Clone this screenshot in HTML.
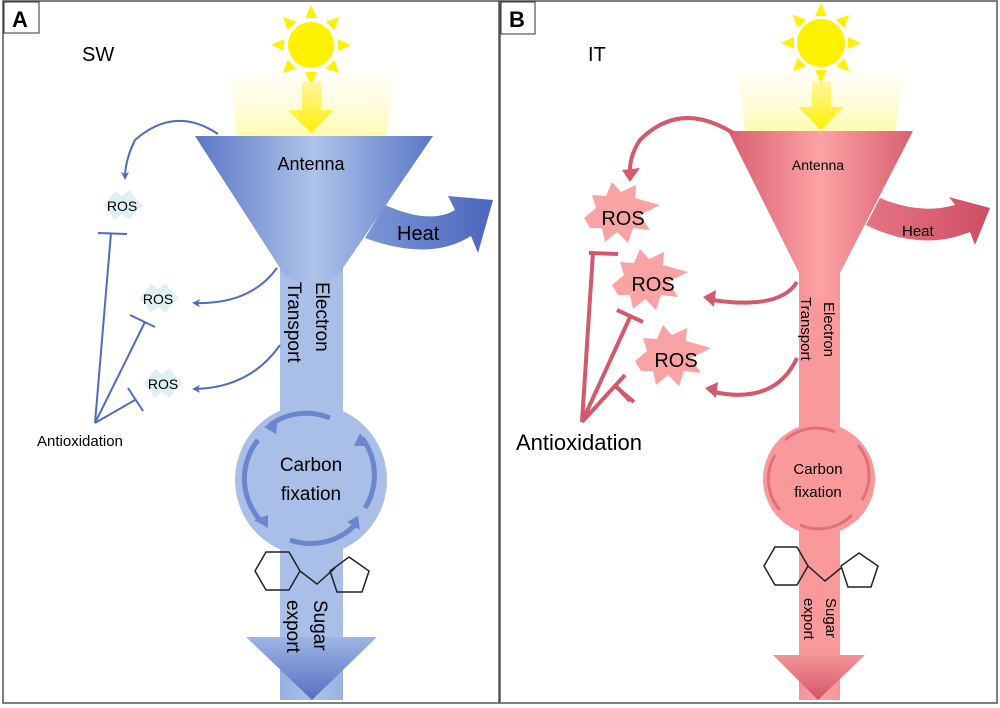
<!DOCTYPE html>
<html><head><meta charset="utf-8"><style>
body{margin:0;background:#fff}
svg{display:block;font-family:"Liberation Sans",sans-serif}
</style></head><body>
<svg width="1000" height="708" viewBox="0 0 1000 708" xmlns="http://www.w3.org/2000/svg">
<defs>
<linearGradient id="bA" x1="0" x2="1" y1="0" y2="0"><stop offset="0" stop-color="#5a77c6"/><stop offset="0.5" stop-color="#aec3ea"/><stop offset="1" stop-color="#5a77c6"/></linearGradient>
<linearGradient id="bAd" x1="0" x2="0" y1="0" y2="1"><stop offset="0" stop-color="#9fb5e5"/><stop offset="1" stop-color="#5570c2"/></linearGradient>
<linearGradient id="hA" x1="0" x2="1"><stop offset="0" stop-color="#7d96d6"/><stop offset="1" stop-color="#4a66bd"/></linearGradient>
<linearGradient id="bB" x1="0" x2="1" y1="0" y2="0"><stop offset="0" stop-color="#d85f72"/><stop offset="0.5" stop-color="#fca2a4"/><stop offset="1" stop-color="#d85f72"/></linearGradient>
<linearGradient id="bBd" x1="0" x2="0" y1="0" y2="1"><stop offset="0" stop-color="#f49598"/><stop offset="1" stop-color="#d45468"/></linearGradient>
<linearGradient id="hB" x1="0" x2="1"><stop offset="0" stop-color="#e57583"/><stop offset="1" stop-color="#cf4e64"/></linearGradient>
<linearGradient id="lt" x1="0" x2="0" y1="0" y2="1"><stop offset="0" stop-color="#fffbe0" stop-opacity="0.3"/><stop offset="1" stop-color="#fffbb0"/></linearGradient>
<linearGradient id="ya" x1="0" x2="0" y1="0" y2="1"><stop offset="0" stop-color="#fff6a0"/><stop offset="1" stop-color="#fff000"/></linearGradient>
<marker id="mA" markerWidth="8" markerHeight="8" refX="6" refY="4" orient="auto" markerUnits="userSpaceOnUse"><path d="M0,0 L8,4 L0,8 L2,4Z" fill="#4f6cc0"/></marker>
</defs>
<rect x="3" y="1" width="496" height="702" fill="none" stroke="#555" stroke-width="1.5"/>
<rect x="500" y="1" width="497" height="702" fill="none" stroke="#555" stroke-width="1.5"/>
<rect x="4" y="2" width="35" height="31" fill="#fff" stroke="#333"/>
<text x="12" y="27" font-size="22" font-weight="bold">A</text>
<rect x="501" y="2" width="34" height="32" fill="#fff" stroke="#333"/>
<text x="509" y="27" font-size="22" font-weight="bold">B</text>
<text x="82" y="61" font-size="20">SW</text>
<text x="588" y="61" font-size="20">IT</text>

<!-- Panel A -->
<polygon points="230,75 395,75 386,136 237,136" fill="url(#lt)"/>
<g fill="#fff200">
<circle cx="311" cy="45" r="23"/>
<g transform="translate(311,45)">
<polygon points="-6,-27 6,-27 0,-40"/><polygon points="-6,27 6,27 0,40"/><polygon points="-27,-6 -27,6 -40,0"/><polygon points="27,-6 27,6 40,0"/>
<g transform="rotate(45)"><polygon points="-6,-27 6,-27 0,-40"/><polygon points="-6,27 6,27 0,40"/><polygon points="-27,-6 -27,6 -40,0"/><polygon points="27,-6 27,6 40,0"/></g>
</g></g>
<polygon points="302,82 321,82 321,110 334,110 311,133 288,110 302,110" fill="url(#ya)"/>
<path d="M195,136 L433,136 L343,268 L343,700 L280,700 L280,268 Z" fill="url(#bA)"/>
<rect x="280" y="300" width="63" height="340" fill="#a9bfe8"/>
<path d="M280,270 Q311,300 343,270 L343,300 L280,300Z" fill="#a9bfe8"/>
<circle cx="311" cy="480" r="76" fill="#a9bfe8"/>
<polygon points="246,637 377,637 312,700" fill="url(#bAd)"/>
<g fill="none" stroke="#6a86cf" stroke-width="5">
<path d="M330,418 A62,62 0 0 0 270,425"/><path d="M258,440 A62,62 0 0 0 262,522"/><path d="M290,540 A62,62 0 0 0 355,525"/><path d="M365,508 A62,62 0 0 0 362,438"/>
</g>
<g fill="#6a86cf"><polygon points="264,427 278,418 276,434"/><polygon points="268,528 254,520 268,515"/><polygon points="360,530 347,522 358,516"/><polygon points="360,433 368,446 354,446"/></g>
<text x="311" y="170" font-size="18" text-anchor="middle">Antenna</text>
<text x="311" y="471" font-size="19" text-anchor="middle">Carbon</text>
<text x="311" y="500" font-size="19" text-anchor="middle">fixation</text>
<text font-size="19" transform="translate(316,282) rotate(90)">Electron</text>
<text font-size="19" transform="translate(288,282) rotate(90)">Transport</text>
<text font-size="19" transform="translate(314,600) rotate(90)">Sugar</text>
<text font-size="19" transform="translate(287,600) rotate(90)">export</text>
<path d="M385,205 Q430,225 455,210 L448,196 L493,200 L478,253 L471,236 Q430,262 365,238 Z" fill="url(#hA)"/>
<text x="397" y="240" font-size="20">Heat</text>
<g fill="none" stroke="#222" stroke-width="1.5">
<polygon points="255,571 266,552 289,552 300,571 289,590 266,590"/>
<path d="M300,571 L317,584 L335,568"/>
<polygon points="349,557 369,571 362,592 337,592 330,571"/>
</g>
<g fill="#dff0f5"><polygon points="103,205 110,198 115,191 122,196 130,190 135,198 143,205 135,212 130,220 122,214 114,220 110,212"/><polygon points="139,298 146,291 151,284 158,289 166,283 171,291 179,298 171,305 166,313 158,307 150,313 146,305"/><polygon points="143,383 150,376 155,369 162,374 170,368 175,376 183,383 175,390 170,398 162,392 154,398 150,390"/></g>
<text x="122" y="211" font-size="14" text-anchor="middle">ROS</text>
<text x="158" y="304" font-size="14" text-anchor="middle">ROS</text>
<text x="163" y="389" font-size="14" text-anchor="middle">ROS</text>
<g fill="none" stroke="#4f6cc0" stroke-width="2">
<path d="M218,134 Q175,105 135,140 Q125,160 125,178" marker-end="url(#mA)"/>
<path d="M277,268 Q250,305 194,303" marker-end="url(#mA)"/>
<path d="M280,345 Q250,388 194,389" marker-end="url(#mA)"/>
<path d="M95,423 L111,233 M98,233 L127,234"/>
<path d="M95,423 L145,322 M130,315 L155,327"/>
<path d="M95,423 L135,400 M128,388 L143,411"/>
</g>
<text x="37" y="446" font-size="15">Antioxidation</text>

<!-- Panel B -->
<polygon points="738,72 905,72 895,131 745,131" fill="url(#lt)"/>
<g fill="#fff200">
<circle cx="821" cy="43" r="24"/>
<g transform="translate(821,43)">
<polygon points="-6,-27 6,-27 0,-40"/><polygon points="-6,27 6,27 0,40"/><polygon points="-27,-6 -27,6 -40,0"/><polygon points="27,-6 27,6 40,0"/>
<g transform="rotate(45)"><polygon points="-6,-27 6,-27 0,-40"/><polygon points="-6,27 6,27 0,40"/><polygon points="-27,-6 -27,6 -40,0"/><polygon points="27,-6 27,6 40,0"/></g>
</g></g>
<polygon points="812,82 831,82 831,107 844,107 821,130 798,107 812,107" fill="url(#ya)"/>
<path d="M728,131 L913,131 L840,273 L840,700 L799,700 L799,273 Z" fill="url(#bB)"/>
<rect x="799" y="300" width="41" height="360" fill="#f9999c"/>
<circle cx="819" cy="479" r="56" fill="#f9999c"/>
<polygon points="773,655 865,655 818,700" fill="url(#bBd)"/>
<g fill="none" stroke="#e0707c" stroke-width="3">
<path d="M835,432 A47,47 0 0 0 785,440"/><path d="M775,455 A47,47 0 0 0 780,510"/><path d="M800,525 A47,47 0 0 0 852,515"/><path d="M862,500 A47,47 0 0 0 858,445"/>
</g>
<text x="818" y="170" font-size="14" text-anchor="middle">Antenna</text>
<text x="818" y="474" font-size="15" text-anchor="middle">Carbon</text>
<text x="818" y="497" font-size="15" text-anchor="middle">fixation</text>
<text font-size="15" transform="translate(824,302) rotate(90)">Electron</text>
<text font-size="15" transform="translate(801,297) rotate(90)">Transport</text>
<text font-size="15" transform="translate(826,598) rotate(90)">Sugar</text>
<text font-size="15" transform="translate(804,598) rotate(90)">export</text>
<path d="M880,198 Q920,215 955,205 L949,197 L990,208 L975,245 L970,232 Q920,252 866,225 Z" fill="url(#hB)"/>
<text x="902" y="236" font-size="15">Heat</text>
<g fill="none" stroke="#222" stroke-width="1.5">
<polygon points="764,566 775,547 797,547 808,566 797,585 775,585"/>
<path d="M808,566 L825,581 L841,568"/>
<polygon points="859,553 878,566 871,587 848,587 841,566"/>
</g>
<g fill="#f9a3a4">
<polygon points="584,218 596,208 592,195 606,196 612,182 621,192 636,185 635,198 660,205 640,215 650,230 633,228 628,243 617,232 605,242 602,228 590,228"/>
<polygon points="612,285 624,275 620,262 634,263 640,249 649,259 664,252 663,265 688,272 668,282 678,297 661,295 656,310 645,299 633,309 630,295 618,295"/>
<polygon points="635,361 647,351 643,338 657,339 663,325 672,335 687,328 686,341 711,348 691,358 701,373 684,371 679,386 668,375 656,385 653,371 641,371"/>
</g>
<text x="623" y="225" font-size="20" text-anchor="middle">ROS</text>
<text x="653" y="291" font-size="20" text-anchor="middle">ROS</text>
<text x="676" y="367" font-size="20" text-anchor="middle">ROS</text>
<g fill="none" stroke="#d35a6c" stroke-width="4">
<path d="M733,133 Q680,100 640,140 Q630,155 630,170"/>
<path d="M797,282 Q780,310 712,300"/>
<path d="M797,358 Q775,405 714,392"/>
<path d="M582,422 L593,252 M589,253 L618,254"/>
<path d="M582,422 L631,315 M617,310 L643,322"/>
<path d="M582,422 L625,375 M615,386 L634,402 M616,386 L630,401"/>
</g>
<g fill="#d35a6c">
<polygon points="622,170 640,168 630,182"/>
<polygon points="703,297 716,290 714,307"/>
<polygon points="705,388 718,382 716,398"/>
</g>
<text x="516" y="450" font-size="22">Antioxidation</text>
</svg>
</body></html>
